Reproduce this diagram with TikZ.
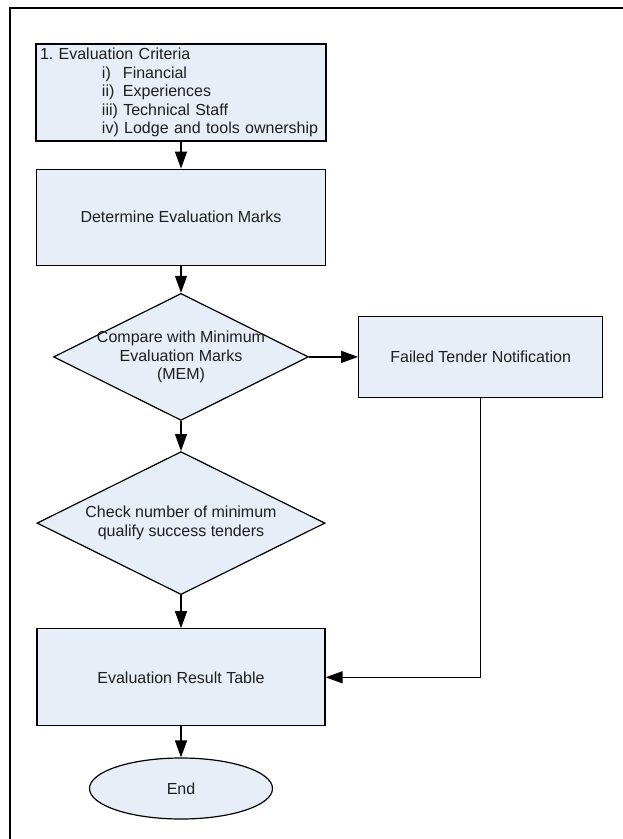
\documentclass[tikz,border=0pt]{standalone}
\usepackage{fontspec}
\setmainfont{Liberation Sans}
\usetikzlibrary{arrows.meta,positioning,shapes.geometric}
\definecolor{boxfill}{RGB}{232,238,247}
\definecolor{inkgray}{RGB}{30,30,30}

\begin{document}
\begin{tikzpicture}[>={Triangle[length=17pt,width=12pt]},every node/.append style={align=center,text=inkgray,font=\fontsize{16}{18.5}\selectfont},int/.style={rectangle,draw,fill=boxfill,line width=1.2pt,inner sep=4pt},dec/.style={diamond,draw,fill=boxfill,line width=1.2pt,inner sep=0pt,shape aspect=2},term/.style={ellipse,draw,fill=boxfill,line width=1.2pt},link/.style={->,line width=1.3pt},]
    \useasboundingbox (0,0) rectangle (623pt,-839pt);
    \draw[line width=2.4pt] (10pt,-850pt) -- (10pt,-8pt) -- (640pt,-8pt);
    \node [int, align=left, text width=282pt, minimum height=97pt] (box1) at (181pt,-92.5pt) {1.\ Evaluation Criteria\\
        \hspace*{62pt}\makebox[21pt][l]{i)}Financial\\
        \hspace*{62pt}\makebox[21pt][l]{ii)}Experiences\\
        \hspace*{62pt}iii) Technical Staff\\
        \hspace*{62pt}iv) Lodge and tools ownership};
    \node [int, below=27pt of box1, minimum width=289pt, minimum height=96pt] (box2) {Determine Evaluation Marks};
    \node [dec, below=27pt of box2, minimum width=255pt, minimum height=127pt, label={center:Compare with Minimum\\Evaluation Marks\\(MEM)}] (dec1) {};
    \node [int, right=49pt of dec1, minimum width=244pt, minimum height=81pt] (box3) {Failed Tender Notification};
    \node [dec, below=30pt of dec1, minimum width=288pt, minimum height=143pt] (dec2) {Check number of minimum\\qualify success tenders};
    \node [int, below=33pt of dec2, minimum width=288pt, minimum height=97pt] (box4) {Evaluation Result Table};
    \node [term, below=31pt of box4, minimum width=183pt, minimum height=61pt] (box5) {End};
    \path[link] (box1) edge (box2);
    \path[link] (box2) edge (dec1);
    \path[link] (dec1) edge (box3);
    \path[link] (dec1) edge (dec2);
    \path[link] (dec2) edge (box4);
    \path[link] (box4) edge (box5);
    \draw[link] (box3.south) |- (box4.east);
\end{tikzpicture}
\end{document}
